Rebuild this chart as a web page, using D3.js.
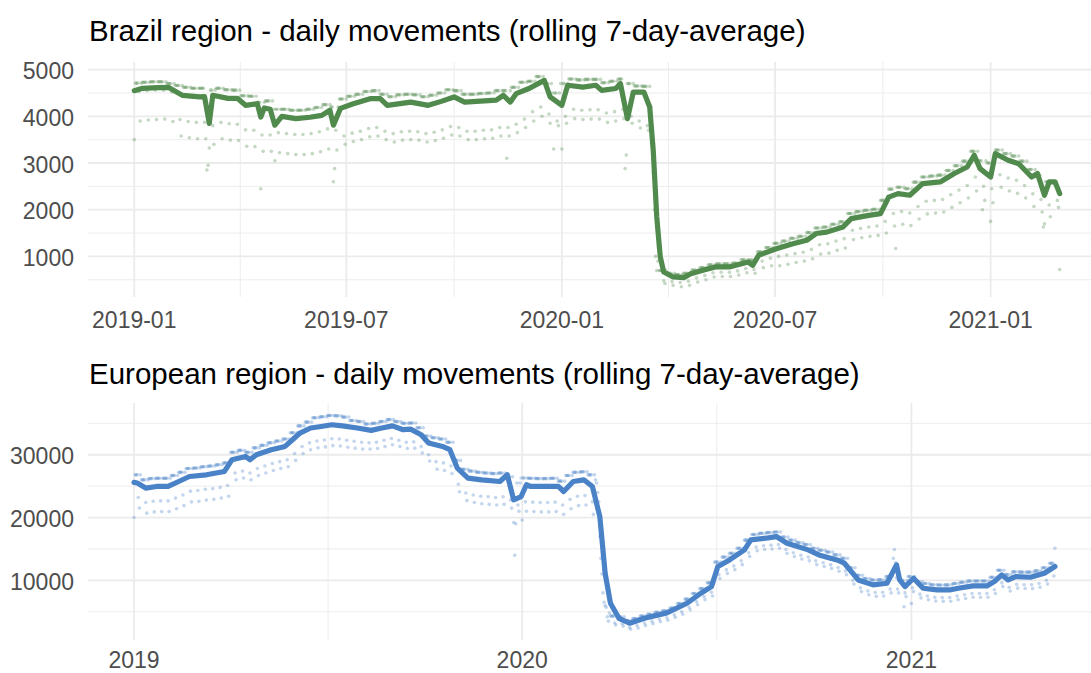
<!DOCTYPE html>
<html>
<head>
<meta charset="utf-8">
<script src="https://cdn.jsdelivr.net/npm/d3@7"></script>
<style>
html, body { margin: 0; padding: 0; background: #fff; }
svg { display: block; font-family: "Liberation Sans", Arial, Helvetica, sans-serif; }
</style>
</head>
<body>
<svg id="chart" width="1091" height="673"></svg>
<script>
// ---- Brazil region ----
var brTitle = "Brazil region - daily movements (rolling 7-day-average)";
var brStart = "2019-01-01", brEnd = "2021-03-01";
var brXTicks = ["2019-01-01", "2019-07-01", "2020-01-01", "2020-07-01", "2021-01-01"];
var brYTicks = [1000, 2000, 3000, 4000, 5000];
var brYLim = [131, 5163];

// rolling average, read at key days (day offset from start)
var brLineDay = [0,7,20,29,41,56,60,64,67,80,88,95,105,108,111,116,120,126,138,150,160,167,170,176,187,202,210,216,236,251,262,273,282,309,315,321,326,337,350,355,365,370,383,394,399,411,415,421,426,435,440,443,446,449,452,460,469,475,487,496,508,524,528,533,548,563,574,582,591,605,612,627,637,644,652,662,673,688,700,711,717,722,731,735,746,755,766,771,777,781,786,790];
var brLineVal = [4550,4600,4615,4620,4450,4415,4420,3850,4450,4385,4385,4235,4270,3985,4180,4150,3810,4000,3950,3980,4020,4130,3810,4170,4270,4380,4380,4235,4305,4235,4320,4415,4305,4345,4450,4305,4485,4595,4770,4415,4235,4665,4625,4665,4555,4595,4700,3950,4520,4520,4200,3270,1845,990,665,560,545,630,715,775,775,880,810,1025,1165,1275,1345,1490,1520,1630,1810,1880,1915,2270,2345,2310,2560,2595,2775,2915,3165,2880,2700,3200,3060,2985,2700,2775,2310,2595,2595,2345];

// daily counts, per week: weekdays / Saturday / Sunday
var brWeekday = [4710,4730,4740,4740,4700, 4660,4620,4600,4600,4560, 4600,4570,4560,4440,4430, 4300,4330,4150,4150,4130,
  4130,4150,4190,4250,4200, 4370,4430,4470,4530,4550, 4470,4420,4460,4470,4460, 4420,4450,4500,4570,4550,
  4470,4470,4490,4500,4550, 4550,4620,4730,4750,4850, 4700,4500,4700,4800,4780, 4790,4790,4720,4750,4800,
  4700,4650,4640,4200,700, 640,610,640,710,760, 820,840,840,860,930, 920,1100,1190,1280,1330,
  1390,1430,1510,1610,1630, 1690,1740,1920,1960,1990, 2010,2200,2440,2480,2450, 2590,2700,2720,2740,2840,
  2940,3040,3250,3050,3000, 3280,3200,3150,3040,2860, 2740,2600,2600];
var brSat = [4530,4550,4560,4560,4520, 3930,3890,3870,3870,3800, 3870,3840,3830,3710,3700, 3600,3600,3650,3630,3610,
  3610,3630,3670,3730,3700, 3580,3640,3680,3740,3760, 3680,3630,3670,3680,3670, 3630,3660,3710,3780,3760,
  3680,3680,3700,3710,3760, 3760,3830,3940,4100,4200, 4050,3900,4000,4150,4130, 4140,4140,4070,4100,4150,
  4000,3900,3800,1000,480, 460,440,470,540,590, 650,660,660,690,740, 720,900,960,1000,1030,
  1060,1090,1150,1250,1270, 1330,1380,1560,1600,1630, 1650,1750,1920,1960,1930, 2070,2180,2200,2220,2320,
  2420,2520,2700,2500,2450, 2750,2680,2630,2520,2340, 2220,2100,2200];
var brSun = [3900,3920,3930,3940,3890, 3580,3540,3520,3520,3400, 3520,3490,3480,3360,3350, 3250,3250,3220,3200,3180,
  3180,3200,3240,3300,3280, 3400,3460,3500,3560,3580, 3500,3450,3490,3500,3490, 3450,3480,3530,3600,3580,
  3500,3500,3520,3530,3580, 3580,3650,3760,3900,4000, 3850,3800,3850,3950,3930, 3940,3940,3870,3900,3950,
  3850,3750,3700,700,420, 380,350,380,450,500, 560,570,570,600,650, 640,760,800,800,830,
  870,900,950,1050,1070, 1130,1180,1360,1400,1430, 1450,1500,1650,1690,1660, 1800,1910,1930,1950,2050,
  2150,2250,2400,2200,2150, 2480,2400,2350,2250,2070, 1950,1850,2050];
// holidays and single days that sit off the bands
var brSpecialDay = [0,62,63,64,108,120,170,171,318,358,365,419,420,441,442,443,444,445,446,447,650,724,731,776,777,790];
var brSpecialVal = [3500,2850,2950,3320,2450,3050,2600,2880,3100,3300,3300,2880,3170,4200,3500,2800,2000,1000,700,900,1170,2000,1750,1630,1700,720];

// ---- European region ----
var euTitle = "European region - daily movements (rolling 7-day-average)";
var euStart = "2019-01-01", euEnd = "2021-05-16";
var euXTicks = ["2019-01-01", "2020-01-01", "2021-01-01"];
var euYTicks = [10000, 20000, 30000];
var euYLim = [494, 38245];

var euLineDay = [0,3,11,21,32,42,52,68,85,92,105,109,115,129,142,149,156,166,176,186,196,210,223,233,243,253,260,270,277,290,297,304,314,327,344,351,357,364,369,373,399,404,413,423,431,438,443,448,456,466,480,500,520,533,543,549,560,574,580,594,604,614,634,644,661,668,681,695,708,717,720,725,733,742,755,767,775,789,802,809,816,822,829,843,856,866];
var euLineVal = [25600,25490,24690,24950,24950,25740,26540,26810,27340,29200,29730,29200,30000,30800,31330,32390,33460,34260,34510,34780,34600,34260,33880,34260,34600,33990,34080,33190,31860,31330,30800,27870,26280,26010,25740,26810,22820,23350,25220,24950,24950,24150,25740,26010,24950,20160,11130,6350,3950,3160,3950,4750,6350,7940,9000,12190,13250,14850,16440,16710,16970,15910,14850,14050,13250,12720,10060,9270,9530,12460,10060,9000,10330,8740,8470,8470,8740,9110,9110,9800,10860,10060,10590,10490,11130,12190];

var euWeekday = [26800,26000,26200,26250,26250, 26700,27200,27800,27900,28100, 28200,28400,28700,30400,30700, 30400,31100,31500,31900,32200,
  32500,33500,34600,35200,35900, 36050,36250,36200,36000,35450, 35300,34900,35000,35300,35600, 35300,35000,35050,34300,33000,
  32700,32500,32000,29100,27700, 27400,27200,27100,27000,27100, 26500,25500,26300,26250,26200, 26200,26250,25800,26700,27200,
  27300,26800,26000,8000,4300, 4200,3600,3900,4300,4600, 4900,5150,5600,6300,7000, 7900,8700,9600,12900,13700,
  14300,15100,16400,17300,17500, 17600,17700,16900,16400,16000, 15700,15100,14800,14500,14050, 13500,12000,10800,10300,10050,
  10100,10600,10400,10000,10600, 9800,9500,9300,9250,9270, 9500,9700,9900,9900,9900, 10500,11600,10900,11350,11300,
  11300,11500,12000,12700];
var euSat = [23200,22400,22600,22650,22650, 23100,23600,24200,24300,24500, 24600,24800,25100,27100,27400, 27100,27800,28200,28600,28900,
  29200,30200,31300,31900,32200, 32350,32550,32500,32300,32150, 32000,31900,32000,32300,32600, 32300,32000,32050,31300,30000,
  28900,28700,28200,25300,23900, 23600,23400,23300,23200,23300, 22800,22000,22500,22450,22400, 22400,22450,22000,22900,23400,
  23500,22500,17000,4200,3200, 3100,2500,2800,3200,3500, 3800,4050,4500,5000,5700, 6600,7400,8100,10900,11700,
  12300,13100,14400,15300,15500, 15600,15700,14900,14400,14000, 13700,13100,12800,12500,12050, 11500,10000,8800,8300,8050,
  8100,8600,8600,8000,8800, 7800,7500,7300,7250,7270, 7500,7700,7900,7900,7900, 8500,9600,8900,9350,9300,
  9300,9500,10000,10700];
var euSun = [21500,20700,20900,20950,20950, 21400,21900,22500,22600,22800, 22900,23100,23400,26000,26300, 26000,26700,27100,27500,27800,
  28100,29100,30200,30800,31100, 31250,31450,31400,31200,31050, 30900,30900,31000,31300,31600, 31300,31000,31050,30300,29000,
  27700,27500,27000,24100,22700, 22400,22200,22100,22000,22100, 21500,21000,21000,20950,20900, 20900,20950,20500,21400,21900,
  22000,20500,13500,3500,2900, 2700,2200,2400,2800,3100, 3400,3650,4100,4600,5300, 6100,6900,7500,10300,11100,
  11700,12500,13800,14700,14900, 15000,15100,14300,13800,13400, 13100,12500,12200,11900,11450, 10900,9400,8200,7700,7450,
  7500,8000,8000,7400,8200, 7200,6900,6700,6650,6670, 6900,7100,7300,7300,7300, 7900,9000,8300,8750,8700,
  8700,8900,9400,10100];
var euSpecialDay = [0,357,358,359,365,434,435,436,437,438,439,440,441,442,443,444,445,446,447,714,715,716,724,731,866];
var euSpecialVal = [20000,19200,14000,19000,19600,26000,25500,24000,22500,17000,13500,11000,8000,6500,6000,5700,4200,3500,4800,13500,14900,12800,5800,6300,15100];

var svg = d3.select("#chart");
svg.append("rect").attr("width", 1091).attr("height", 673).attr("fill", "#fff");

var parse = d3.utcParse("%Y-%m-%d");
var DAY = 864e5;

function drawPanel(p) {
  var start = parse(p.start), end = parse(p.end);
  var nDays = Math.round((end - start) / DAY);
  var pad = 0.05 * (end - start);
  var dayDate = function(d) { return new Date(+start + d * DAY); };

  var x = d3.scaleUtc()
    .domain([new Date(+start - pad), new Date(+end + pad)])
    .range([p.left, p.right]);
  var y = d3.scaleLinear().domain(p.yLim).range([p.bottom, p.top]);

  var g = svg.append("g");

  // gridlines: minor halfway between majors
  var xMaj = p.xTicks.map(parse);
  var xMin = [];
  for (var i = 0; i < xMaj.length - 1; i++) xMin.push(new Date((+xMaj[i] + +xMaj[i + 1]) / 2));
  xMin.push(new Date(+xMaj[xMaj.length - 1] + (xMaj[1] - xMaj[0]) / 2));
  xMin = xMin.filter(function(d) { return d >= x.domain()[0] && d <= x.domain()[1]; });

  var step = p.yTicks[1] - p.yTicks[0];
  var yMin = [p.yTicks[0] - step / 2].concat(p.yTicks.map(function(v) { return v + step / 2; }))
    .filter(function(v) { return v >= p.yLim[0] && v <= p.yLim[1]; });

  g.selectAll(".ymin").data(yMin).enter().append("line")
    .attr("x1", p.left).attr("x2", p.right)
    .attr("y1", y).attr("y2", y)
    .attr("stroke", "#ebebeb").attr("stroke-width", 0.9);
  g.selectAll(".xmin").data(xMin).enter().append("line")
    .attr("x1", x).attr("x2", x)
    .attr("y1", p.top).attr("y2", p.bottom)
    .attr("stroke", "#ebebeb").attr("stroke-width", 0.9);
  g.selectAll(".ymaj").data(p.yTicks).enter().append("line")
    .attr("x1", p.left).attr("x2", p.right)
    .attr("y1", y).attr("y2", y)
    .attr("stroke", "#ebebeb").attr("stroke-width", 1.8);
  g.selectAll(".xmaj").data(xMaj).enter().append("line")
    .attr("x1", x).attr("x2", x)
    .attr("y1", p.top).attr("y2", p.bottom)
    .attr("stroke", "#ebebeb").attr("stroke-width", 1.8);

  // daily points
  var special = {};
  p.specialDay.forEach(function(d, i) { special[d] = p.specialVal[i]; });
  var pts = [];
  for (var d = 0; d <= nDays; d++) {
    var date = dayDate(d), w = Math.floor(d / 7), dow = date.getUTCDay();
    var v = special[d] !== undefined ? special[d]
      : dow === 6 ? p.sat[w] : dow === 0 ? p.sun[w] : p.weekday[w];
    pts.push({ date: date, v: v });
  }
  g.append("g").selectAll("circle").data(pts).enter().append("circle")
    .attr("cx", function(d) { return x(d.date); })
    .attr("cy", function(d) { return y(d.v); })
    .attr("r", 1.8)
    .attr("fill", p.color)
    .attr("fill-opacity", 0.33);

  // rolling average line
  var lineData = p.lineDay.map(function(d, i) { return { date: dayDate(d), v: p.lineVal[i] }; });
  g.append("path").datum(lineData)
    .attr("fill", "none")
    .attr("stroke", p.color)
    .attr("stroke-width", 5.2)
    .attr("stroke-linejoin", "round")
    .attr("stroke-linecap", "round")
    .attr("d", d3.line().x(function(d) { return x(d.date); }).y(function(d) { return y(d.v); }));

  // axis labels
  g.selectAll(".ylab").data(p.yTicks).enter().append("text")
    .attr("x", p.left - 14)
    .attr("y", function(v) { return y(v) + 9.5; })
    .attr("text-anchor", "end")
    .attr("font-size", "23px")
    .attr("fill", "#4d4d4d")
    .text(function(v) { return v; });
  var fmt = d3.utcFormat(p.xFormat);
  g.selectAll(".xlab").data(xMaj).enter().append("text")
    .attr("x", x)
    .attr("y", p.bottom + p.xLabelGap)
    .attr("text-anchor", "middle")
    .attr("font-size", "23px")
    .attr("fill", "#4d4d4d")
    .text(fmt);

  g.append("text")
    .attr("x", 89).attr("y", p.titleY)
    .attr("font-size", "29.5px")
    .attr("fill", "#000")
    .text(p.title);
}

drawPanel({
  title: brTitle, titleY: 41, start: brStart, end: brEnd,
  left: 88, right: 1106, top: 62, bottom: 297, xLabelGap: 31,
  xTicks: brXTicks, xFormat: "%Y-%m", yTicks: brYTicks, yLim: brYLim,
  lineDay: brLineDay, lineVal: brLineVal,
  weekday: brWeekday, sat: brSat, sun: brSun,
  specialDay: brSpecialDay, specialVal: brSpecialVal,
  color: "#508a4c"
});

drawPanel({
  title: euTitle, titleY: 384, start: euStart, end: euEnd,
  left: 88, right: 1101, top: 403, bottom: 640, xLabelGap: 28,
  xTicks: euXTicks, xFormat: "%Y", yTicks: euYTicks, yLim: euYLim,
  lineDay: euLineDay, lineVal: euLineVal,
  weekday: euWeekday, sat: euSat, sun: euSun,
  specialDay: euSpecialDay, specialVal: euSpecialVal,
  color: "#4a82c8"
});
</script>
</body>
</html>
